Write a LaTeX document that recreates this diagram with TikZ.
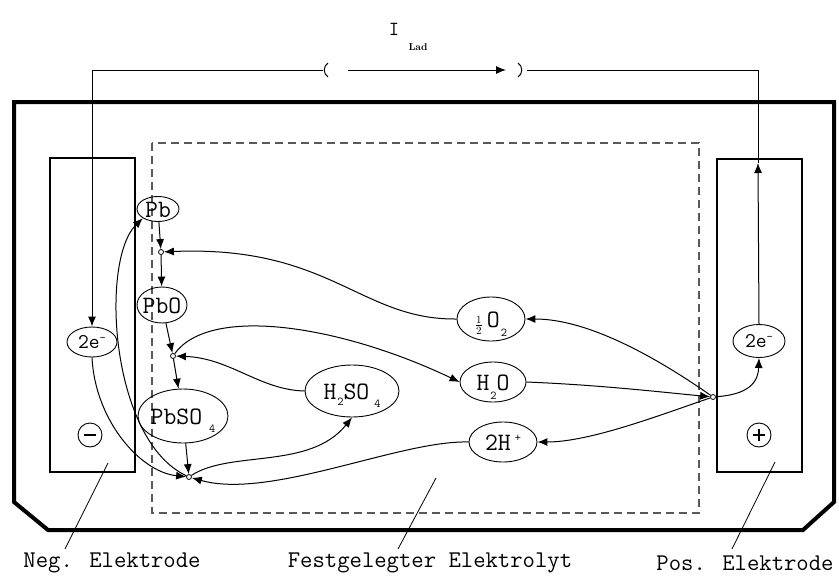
\documentclass[tikz,border=0pt]{standalone}
\usetikzlibrary{shapes.geometric,arrows.meta}
\newcommand\ntxt[1]{\makebox[0pt]{\raisebox{-0.33em}[0pt][0pt]{#1}}}
\newcommand\subdn[2]{\raisebox{-#1}{\fontsize{12}{12}\selectfont #2}}
\newcommand\supup[2]{\raisebox{#1}{\fontsize{12}{12}\selectfont #2}}
\begin{document}
\begin{tikzpicture}[x=1pt,y=-1pt,
  el/.style={draw,ellipse,inner sep=0pt,line width=0.9pt,font=\ttfamily\fontsize{25}{25}\selectfont},
  jn/.style={draw,circle,inner sep=0pt,minimum size=5pt,fill=white,line width=0.8pt},
  arr/.style={line width=1pt,-{Latex[length=10pt,width=8pt]}},
  ln/.style={line width=1pt},
  lbl/.style={font=\ttfamily\fontsize{24}{24}\selectfont},
]
\useasboundingbox (0,0) rectangle (839,576);
% outer container
\draw[line width=4pt,line join=miter] (14,102) -- (834,102) -- (834,502) -- (803,530) -- (48,530) -- (14,502) -- cycle;
% electrodes
\draw[line width=1.3pt] (50,158) rectangle (135,472);
\draw[line width=1.3pt] (717,159) rectangle (802,472);
% electrolyte
\draw[line width=1.8pt,dash pattern=on 8pt off 5pt,gray!70!black] (152,143) rectangle (699,513);

% nodes
\node[el,minimum width=42,minimum height=25] (pb) at (158,209) {\ntxt{Pb}};
\node[el,minimum width=50,minimum height=36] (pbo) at (162,305) {\ntxt{PbO}};
\node[el,minimum width=90,minimum height=54] (pbso) at (183,416) {\ntxt{PbSO\hspace{7pt}\subdn{8pt}{4}}};
\node[el,minimum width=94,minimum height=52] (hso) at (352,391) {\ntxt{H\hspace{1pt}\subdn{6pt}{2}SO\hspace{5pt}\subdn{8pt}{4}}};
\node[el,minimum width=68,minimum height=44] (o2) at (491,319) {\ntxt{\raisebox{-2pt}{\fontsize{15}{15}\selectfont$\frac{1}{2}$}\,O\hspace{1pt}\subdn{9pt}{2}}};
\node[el,minimum width=66,minimum height=40] (h2o) at (493,382) {\ntxt{H\hspace{1pt}\subdn{9pt}{2}O}};
\node[el,minimum width=68,minimum height=40] (hp) at (503,442) {\ntxt{2H\hspace{4pt}\supup{9pt}{+}}};
\node[el,minimum width=50,minimum height=30,font=\ttfamily\fontsize{21}{21}\selectfont] (eL) at (92,342) {\ntxt{2e\supup{7pt}{-}}};
\node[el,minimum width=52,minimum height=33,font=\ttfamily\fontsize{21}{21}\selectfont] (eR) at (759,341) {\ntxt{2e\supup{7pt}{-}}};
\node[draw,circle,minimum size=24pt,inner sep=0pt,line width=0.9pt] (minus) at (90,435) {};
\draw[line width=2.4pt] ([xshift=-6pt]minus.center) -- ([xshift=6pt]minus.center);
\node[draw,circle,minimum size=24pt,inner sep=0pt,line width=0.9pt] (plus) at (759,435) {};
\draw[line width=2.4pt] ([xshift=-6pt]plus.center) -- ([xshift=6pt]plus.center);
\draw[line width=2.4pt] ([yshift=-6pt]plus.center) -- ([yshift=6pt]plus.center);

\node[jn] (j1) at (161,252) {};
\node[jn] (j2) at (173,356) {};
\node[jn] (j3) at (189,477) {};
\node[jn] (jR) at (713,397) {};

% outer circuit
\coordinate (tl) at (92,70);
\coordinate (tr) at (758,70);
\coordinate (ra) at (758,163);
\coordinate (bl) at (323,70);
\coordinate (br) at (527,70);
\coordinate (ia) at (348,70);
\coordinate (ib) at (506,70);
\draw[arr] (tl) -- (eL.north);
\draw[ln] (tl) -- (bl);
\draw[ln] (328,63) .. controls (323,66) and (323,74) .. (328,77);
\draw[arr] (ia) -- (ib);
\draw[ln] (518,63) .. controls (523,66) and (523,74) .. (518,77);
\draw[ln] (br) -- (tr) -- (ra);
\draw[arr] (eR.north) -- (ra);
\node[font=\ttfamily\fontsize{20}{20}\selectfont] (ilab) at (394,29) {I};
\node[font=\bfseries\fontsize{10}{10}\selectfont] (ilad) at (418,47) {Lad};

% reactions
\draw[arr] (pb) -- (j1);
\draw[arr] (j1) -- (pbo);
\draw[arr] (o2.west) .. controls (360,320) and (330,245) .. (j1);
\draw[arr] (pbo) -- (j2);
\draw[arr] (j2) -- (pbso);
\draw[arr] (hso.west) .. controls (260,390) and (230,358) .. (j2);
\draw[arr] (j2) .. controls (210,305) and (340,325) .. (h2o.west);
\draw[arr] (jR) .. controls (660,360) and (590,319) .. (o2.east);
\draw[arr] (h2o.east) .. controls (600,385) and (660,392) .. (jR);
\draw[arr] (jR) .. controls (660,415) and (590,442) .. (hp.east);
\draw[arr] (jR) .. controls (740,395) and (758,388) .. (eR.south);
\draw[arr] (eL.south) .. controls (95,420) and (140,472) .. (j3);
\draw[arr] (j3) .. controls (110,440) and (100,260) .. (pb.south west);
\draw[arr] (pbso) -- (j3);
\draw[arr] (j3) .. controls (230,450) and (310,470) .. (hso.south);
\draw[arr] (hp.west) .. controls (400,440) and (270,500) .. (j3);

% labels
\node[lbl] (negl) at (112,563) {Neg. Elektrode};
\node[lbl] (fesl) at (430,563) {Festgelegter Elektrolyt};
\node[lbl] (posl) at (745,563) {Pos. Elektrode};
\coordinate (n1) at (108,463);
\coordinate (n2) at (65,549);
\coordinate (f1) at (436,478);
\coordinate (f2) at (398,549);
\coordinate (p1) at (775,462);
\coordinate (p2) at (732,549);
\draw[line width=0.8pt] (n1) -- (n2);
\draw[line width=0.8pt] (f1) -- (f2);
\draw[line width=0.8pt] (p1) -- (p2);
\end{tikzpicture}
\end{document}
